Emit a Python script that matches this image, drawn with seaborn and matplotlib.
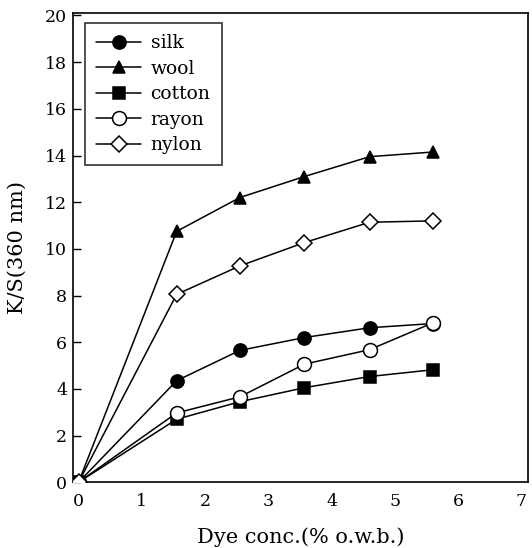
import matplotlib
matplotlib.use("Agg")
import matplotlib.pyplot as plt
import seaborn as sns
import pandas as pd

conc = [0, 1.55, 2.55, 3.57, 4.6, 5.6]
silk = [0, 4.35, 5.65, 6.2, 6.62, 6.8]
wool = [0, 10.75, 12.2, 13.1, 13.95, 14.15]
cotton = [0, 2.7, 3.45, 4.05, 4.53, 4.82]
rayon = [0, 2.97, 3.66, 5.06, 5.68, 6.83]
nylon = [0, 8.05, 9.27, 10.27, 11.14, 11.2]

series = [
    ("silk", silk, "o", "black", 9.5),
    ("wool", wool, "^", "black", 9),
    ("cotton", cotton, "s", "black", 8.5),
    ("rayon", rayon, "o", "white", 10),
    ("nylon", nylon, "D", "white", 8.5),
]

sns.set_theme(style="ticks")
plt.rcParams['font.family'] = ['DejaVu Serif']
plt.rcParams['text.color'] = 'black'
plt.rcParams['axes.labelcolor'] = 'black'

fig = plt.figure(figsize=(5.32, 5.48), dpi=100)
ax = fig.add_axes([0.137, 0.12, 0.855, 0.856])

for name, vals, mk, fc, ms in series:
    df = pd.DataFrame({"x": conc, "y": vals})
    sns.lineplot(data=df, x="x", y="y", ax=ax, color="black", lw=1.1,
                 marker=mk, markerfacecolor=fc, markeredgecolor="black",
                 markeredgewidth=1.1, markersize=ms, label=name, zorder=3)

ax.set_xlim(-0.09, 7.1)
ax.set_ylim(0, 20.1)
ax.set_xticks(range(0, 8))
ax.set_yticks(range(0, 21, 2))
ax.tick_params(direction="in", length=6, width=1, labelsize=12.5, colors="black")
ax.tick_params(axis="x", length=0, pad=8)
ax.tick_params(axis="y", pad=4)
for s in ax.spines.values():
    s.set_linewidth(1.2)
    s.set_color("black")
    s.set_visible(True)
ax.set_xlabel("Dye conc.(% o.w.b.)", fontsize=15, labelpad=12, color="black")
ax.set_ylabel("K/S(360 nm)", fontsize=15, labelpad=13, color="black")

leg = ax.legend(loc="upper left", bbox_to_anchor=(0.006, 0.999), fontsize=13.5,
                frameon=True, fancybox=False, edgecolor="black",
                handlelength=2.4, handletextpad=0.5, borderpad=0.6,
                labelspacing=0.4, labelcolor="black")
leg.get_frame().set_linewidth(1.2)

fig.savefig("out.png", dpi=100)
